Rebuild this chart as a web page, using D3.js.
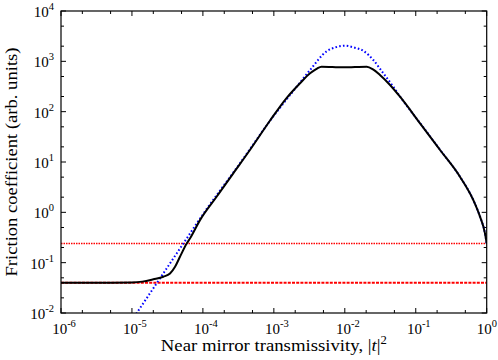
<!DOCTYPE html>
<html>
<head>
<meta charset="utf-8">
<script src="https://cdn.jsdelivr.net/npm/d3@7"></script>
<style>
  body { margin: 0; background: #fff; }
  text { font-family: "Liberation Serif", "DejaVu Serif", serif; fill: #000; }
</style>
</head>
<body>
<script>
// Data
var fullT = [1e-6, 3.2e-6, 1e-5, 1.4e-5, 2.0e-5, 2.77e-5, 3.44e-5, 4.05e-5, 4.75e-5, 5.91e-5, 6.6e-5, 9.1e-5,
             1.56e-4, 2.68e-4, 4.6e-4, 8.8e-4, 1.52e-3, 2.34e-3, 3.24e-3, 4.0e-3, 4.7e-3, 9.5e-3,
             2.04e-2, 2.5e-2, 3.13e-2, 4.34e-2, 6.0e-2, 0.115, 0.22, 0.42, 0.647, 0.805, 0.946, 1.0];
var fullF = [0.040, 0.040, 0.0405, 0.042, 0.0467, 0.0526, 0.061, 0.083, 0.131, 0.24, 0.305, 0.70,
             2.04, 5.96, 17.3, 66, 188, 366, 578, 708, 782, 760,
             782, 692, 535, 339, 198, 58.7, 17.3, 5.1, 1.76, 0.82, 0.383, 0.24];

var approxT = [1e-5, 1.78e-5, 3.16e-5, 5.62e-5, 1e-4, 3.16e-4, 1e-3, 2.1e-3, 3.24e-3, 5.56e-3, 7.4e-3,
               1e-2, 1.35e-2, 1.82e-2, 2.52e-2, 3.49e-2, 4.83e-2, 6.0e-2, 0.115, 0.22, 0.42, 0.647, 0.805, 0.946, 1.0];
var approxF = [0.0072, 0.0242, 0.081, 0.272, 0.91, 8.51, 83.2, 313, 673, 1585, 1900,
               2040, 1880, 1622, 1062, 578, 313, 200, 59.5, 17.5, 5.1, 1.76, 0.82, 0.383, 0.24];

var levelDotted = 0.24;   // upper red dotted line
var levelDashed = 0.04;   // lower red dashed line

var xTickExp = [-6, -5, -4, -3, -2, -1, 0];
var yTickExp = [-2, -1, 0, 1, 2, 3, 4];

// Layout
var W = 498, H = 360;
var margin = {left: 61, right: 11.3, top: 11, bottom: 47};
var pw = W - margin.left - margin.right;
var ph = H - margin.top - margin.bottom;

var svg = d3.select("body").append("svg").attr("width", W).attr("height", H);

var x = d3.scaleLog().domain([1e-6, 1]).range([0, pw]);
var y = d3.scaleLog().domain([1e-2, 1e4]).range([ph, 0]);

var g = svg.append("g").attr("transform", "translate(" + margin.left + "," + margin.top + ")");

svg.append("defs").append("clipPath").attr("id", "clip")
  .append("rect").attr("width", pw).attr("height", ph);

// ticks: majors at decades, minors at 2 and 5
function tickVals(expList) {
  var major = [], minor = [];
  expList.forEach(function(e, i) {
    major.push(Math.pow(10, e));
    if (i < expList.length - 1) { minor.push(2 * Math.pow(10, e)); minor.push(5 * Math.pow(10, e)); }
  });
  return {major: major, minor: minor};
}
var xt = tickVals(xTickExp), yt = tickVals(yTickExp);
var majLen = 5, minLen = 3;

var tk = g.append("g").attr("stroke", "#000").attr("stroke-width", 1);
xt.major.concat(xt.minor).forEach(function(v) {
  var L = xt.major.indexOf(v) >= 0 ? majLen : minLen;
  var px = x(v);
  tk.append("line").attr("x1", px).attr("x2", px).attr("y1", ph).attr("y2", ph - L);
  tk.append("line").attr("x1", px).attr("x2", px).attr("y1", 0).attr("y2", L);
});
yt.major.concat(yt.minor).forEach(function(v) {
  var L = yt.major.indexOf(v) >= 0 ? majLen : minLen;
  var py = y(v);
  tk.append("line").attr("x1", 0).attr("x2", L).attr("y1", py).attr("y2", py);
  tk.append("line").attr("x1", pw).attr("x2", pw - L).attr("y1", py).attr("y2", py);
});

// tick labels
xTickExp.forEach(function(e, i) {
  var last = i === xTickExp.length - 1;
  var t = g.append("text")
    .attr("x", last ? W - margin.left - 1 : x(Math.pow(10, e)) + 3)
    .attr("y", ph + 21)
    .attr("text-anchor", last ? "end" : "middle").style("font-size", "15px");
  t.append("tspan").text("10");
  t.append("tspan").attr("dy", -7).style("font-size", "10.5px").text(e);
});
yTickExp.forEach(function(e) {
  var t = g.append("text").attr("x", -7).attr("y", y(Math.pow(10, e)) + 6)
    .attr("text-anchor", "end").style("font-size", "15px");
  t.append("tspan").text("10");
  t.append("tspan").attr("dy", -7).style("font-size", "10.5px").text(e);
});

// lines
var plot = g.append("g").attr("clip-path", "url(#clip)");

plot.append("line").attr("x1", 0).attr("x2", pw)
  .attr("y1", y(levelDotted)).attr("y2", y(levelDotted))
  .attr("stroke", "#ff0000").attr("stroke-width", 1.5).attr("stroke-dasharray", "1.5,1");
plot.append("line").attr("x1", 0).attr("x2", pw)
  .attr("y1", y(levelDashed)).attr("y2", y(levelDashed))
  .attr("stroke", "#ff0000").attr("stroke-width", 2).attr("stroke-dasharray", "3,1.2");

var line = d3.line()
  .x(function(d) { return x(d[0]); })
  .y(function(d) { return y(d[1]); })
  .curve(d3.curveMonotoneX);

plot.append("path").attr("d", line(d3.zip(approxT, approxF)))
  .attr("fill", "none").attr("stroke", "#0000ff").attr("stroke-width", 2)
  .attr("stroke-dasharray", "1.6,2.2");
plot.append("path").attr("d", line(d3.zip(fullT, fullF)))
  .attr("fill", "none").attr("stroke", "#000").attr("stroke-width", 2);

// frame
g.append("rect").attr("width", pw).attr("height", ph)
  .attr("fill", "none").attr("stroke", "#000").attr("stroke-width", 1.2);

// axis titles
var xt2 = svg.append("text").attr("x", margin.left + pw / 2).attr("y", 351)
  .attr("text-anchor", "middle").style("font-size", "17px")
  .attr("textLength", 226).attr("lengthAdjust", "spacingAndGlyphs");
xt2.append("tspan").text("Near mirror transmissivity, |");
xt2.append("tspan").style("font-style", "italic").text("t");
xt2.append("tspan").text("|");
xt2.append("tspan").attr("dy", -7).style("font-size", "11.5px").text("2");

svg.append("text")
  .attr("transform", "translate(17," + (margin.top + ph / 2) + ") rotate(-90)")
  .attr("text-anchor", "middle").style("font-size", "17px")
  .attr("textLength", 229).attr("lengthAdjust", "spacingAndGlyphs")
  .text("Friction coefficient (arb. units)");
</script>
</body>
</html>
